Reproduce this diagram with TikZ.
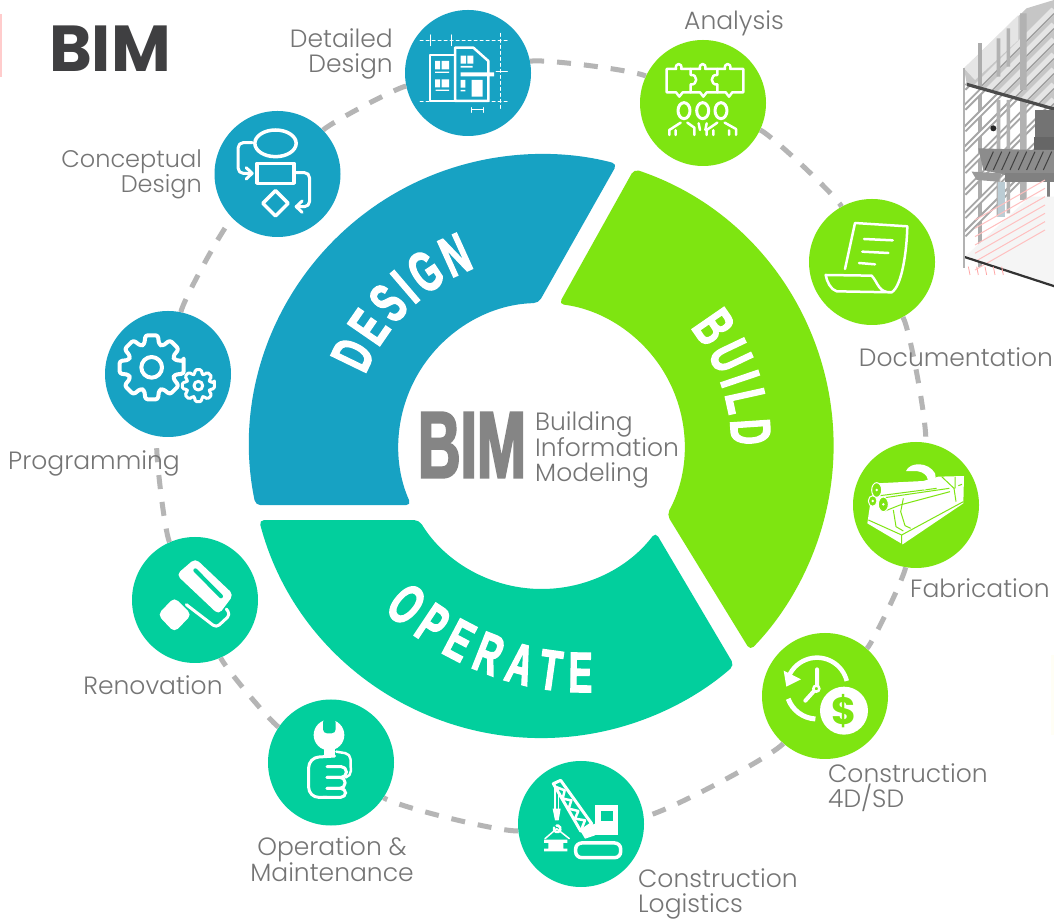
\documentclass[tikz,border=0pt]{standalone}
\usepackage{fontspec}
\setmainfont{Poppins Light}
\newfontfamily\titlefont{Poppins Bold}
\newfontfamily\bebasfont[FakeStretch=0.62,FakeBold=2.2]{Liberation Sans Bold}
\usetikzlibrary{decorations.text}
\definecolor{designblue}{HTML}{17A2C3}
\definecolor{buildgreen}{HTML}{7EE511}
\definecolor{operateteal}{HTML}{02CF9D}
\definecolor{labelgray}{HTML}{757575}
\definecolor{titlegray}{HTML}{3F3F41}
\definecolor{centergray}{HTML}{858585}
\definecolor{dashgray}{HTML}{B5B5B5}
\tikzset{
dot/.style={circle,minimum size=126pt,inner sep=0pt,fill=#1},
ringlink/.style={draw=dashgray,line width=5pt,dash pattern=on 14pt off 13pt,looseness=0.3},
txt/.style={text=labelgray,font=\fontsize{25}{25}\selectfont,inner sep=0pt},
iconline/.style={draw=white,line width=#1,line cap=round,line join=round},
iconline/.default=2.5pt,
rail/.style={draw=gray!70,line width=6pt},
railcore/.style={draw=white,line width=2pt}
}
\begin{document}
\begin{tikzpicture}[x=1pt,y=1pt]
\path[use as bounding box,fill=white] (0,0) rectangle (1054,918);
\coordinate (hub) at (541.5,472);
\fill[red!20] (0,841) rectangle (1.5,904);
\fill[yellow!4] (1051,183) rectangle (1054,263);

\begin{scope}[shift={(hub)},rounded corners=5pt]
\fill[designblue] (191.7:292) arc[start angle=191.7,end angle=75,radius=292] -- (91.2:143) arc[start angle=91.2,end angle=204.4,radius=143] -- cycle;
\fill[buildgreen] (71.5:292) arc[start angle=71.5,end angle=-44.4,radius=292] -- (-28.7:143) arc[start angle=-28.7,end angle=83,radius=143] -- cycle;
\fill[operateteal] (194.7:292) arc[start angle=194.7,end angle=311.3,radius=292] -- (322.9:143) arc[start angle=322.9,end angle=211.2,radius=143] -- cycle;
\path[decorate,decoration={text along path,text align={fit to path},text={|\bebasfont\fontsize{57}{57}\selectfont\color{white}|DESIGN}}] (158:190) arc[start angle=158,end angle=110.5,radius=190];
\path[decorate,decoration={text along path,text align={fit to path},text={|\bebasfont\fontsize{57}{57}\selectfont\color{white}|BUILD}}] (38.5:190) arc[start angle=38.5,end angle=0,radius=190];
\end{scope}
\path[decorate,decoration={text along path,text align={fit to path},text={|\bebasfont\fontsize{57}{57}\selectfont\color{white}|OPERATE}}] (383.5,308) .. controls (430,263) and (510,223) .. (592,226);

\node[dot=designblue](detailed) at (468,845){};
\node[dot=designblue](conceptual) at (277.5,744){};
\node[dot=designblue](programming) at (168,544){};
\node[dot=buildgreen](analysis) at (703,815){};
\node[dot=buildgreen](documentation) at (872,656){};
\node[dot=buildgreen](fabrication) at (916,413){};
\node[dot=buildgreen](construction) at (825,222){};
\node[dot=operateteal](logistics) at (581,94){};
\node[dot=operateteal](operation) at (331,155.5){};
\node[dot=operateteal](renovation) at (195,318){};

\path
(detailed) edge[ringlink,bend left=18] (analysis)
(analysis) edge[ringlink,bend left=18] (documentation)
(documentation) edge[ringlink,bend left=19] (fabrication)
(fabrication) edge[ringlink,bend left=16] (construction)
(construction) edge[ringlink,bend left=21] (logistics)
(logistics) edge[ringlink,bend left=20] (operation)
(operation) edge[ringlink,bend left=16] (renovation)
(renovation) edge[ringlink,bend left=17] (programming)
(programming) edge[ringlink,bend left=17] (conceptual)
(conceptual) edge[ringlink,bend left=16] (detailed);

\node[text=titlegray,font=\titlefont\fontsize{65}{65}\selectfont,inner sep=0pt](title) at (110,869){BIM};
\node[txt,anchor=east,align=right](lbldetailed) at (393,864){Detailed\\Design};
\node[txt,anchor=east,align=right,font=\fontsize{24}{25}\selectfont](lblconceptual) at (202,744){Conceptual\\Design};
\node[txt](lblanalysis) at (734,895){Analysis};
\node[txt](lbldocumentation) at (956,561){Documentation};
\node[txt](lblfabrication) at (980,330){Fabrication};
\node[txt,anchor=west,align=left](lblconstruction) at (828,130){Construction\\4D/SD};
\node[txt,anchor=west,align=left](lbllogistics) at (638,24){Construction\\Logistics};
\node[txt,align=center](lbloperation) at (332,58.5){Operation \&\\Maintenance};
\node[txt](lblrenovation) at (153,233){Renovation};
\node[txt](lblprogramming) at (94,455){Programming};
\node[text=centergray,font=\bebasfont\fontsize{95}{95}\selectfont,inner sep=0pt](hubbim) at (472,473){BIM};
\node[txt,anchor=west,align=left](hubtext) at (535,468){Building\\Information\\Modeling};

\begin{scope}[shift={(detailed.center)},yscale=-1,scale=0.3333,shift={(-144,-144)}]
\draw[iconline=1pt,dashed] (0,48) -- (270,48) (0,230) -- (270,230) (241,25) -- (241,255);
\draw[iconline=1pt] (30,30) -- (30,62) (93,30) -- (93,62) (228,140) -- (262,140) (155,255) -- (190,255) (155,248) -- (155,262) (190,248) -- (190,262);
\draw[iconline=2.5pt] (30,90) rectangle (105,228);
\draw[iconline=2.5pt] (105,228) -- (105,68) -- (160,68) -- (205,108) -- (205,228) -- cycle;
\fill[white] (122,142) rectangle (222,154) (155,165) rectangle (188,215);
\fill[white] (45,108) rectangle (60,133) (65,108) rectangle (87,133) (45,140) rectangle (87,144);
\fill[white] (45,163) rectangle (60,187) (65,163) rectangle (87,187) (47,194) rectangle (87,198);
\fill[white] (122,92) rectangle (138,116) (142,92) rectangle (160,116) (122,123) rectangle (158,128);
\fill[white] (122,165) rectangle (136,188) (122,195) rectangle (136,199);
\end{scope}

\begin{scope}[shift={(conceptual.center)},yscale=-1,scale=0.3333,shift={(-806,-522)}]
\draw[iconline=3.5pt] (800,430) ellipse[x radius=62,y radius=40];
\draw[iconline=3.5pt] (745,490) rectangle (855,550);
\draw[iconline=3.5pt] (800,572) -- (838,610) -- (800,648) -- (762,610) -- cycle;
\draw[iconline=3pt,rounded corners=5pt] (730,428) -- (688,428) -- (688,520) -- (728,520);
\draw[iconline=3pt] (712,503) -- (730,520) -- (712,537);
\draw[iconline=3pt,rounded corners=5pt] (862,518) -- (902,518) -- (902,620) -- (865,620);
\draw[iconline=3pt] (880,603) -- (862,620) -- (880,637);
\end{scope}

\begin{scope}[shift={(programming.center)},yscale=-1,scale=0.3333,shift={(-234,-222)}]
\draw[iconline=4pt,rounded corners=2.5pt,shift={(185,202)}] (-11:98) \foreach \a in {0,45,...,315}{ -- (\a-11:98) -- (\a+11:98) -- (\a+18:72) -- (\a+27:72)} -- cycle;
\draw[iconline=4pt] (185,202) circle[radius=31];
\draw[iconline=3pt,rounded corners=1.5pt,shift={(325,257)}] (-11:49) \foreach \a in {0,45,...,315}{ -- (\a-11:49) -- (\a+11:49) -- (\a+18:36) -- (\a+27:36)} -- cycle;
\draw[iconline=3pt] (325,257) circle[radius=13];
\end{scope}

\begin{scope}[shift={(renovation.center)},yscale=-1,scale=0.3333,shift={(-314,-901)}]
\fill[white,rounded corners=5pt] (258,825) -- (315,776) -- (430,885) -- (385,945) -- cycle;
\draw[operateteal,line width=4pt,line cap=round] (315,812) -- (392,890);
\draw[iconline=3pt,rounded corners=4pt] (408,928) -- (420,945) -- (378,984) -- (288,915);
\fill[white,rounded corners=5pt] (202,945) -- (252,893) -- (304,945) -- (252,998) -- cycle;
\end{scope}

\begin{scope}[shift={(operation.center)},yscale=-1,scale=0.3333,shift={(-274,-217.5)}]
\fill[white] (268,135) circle[radius=46];
\fill[operateteal,rounded corners=4pt] (250,85) rectangle (288,130);
\fill[white] (252,170) rectangle (286,200);
\draw[iconline=3pt,rounded corners=10pt] (285,198) -- (207,203) -- (207,322) -- (262,322);
\draw[iconline=3pt,rounded corners=5pt] (262,230) -- (320,230) -- (320,262) -- (262,262);
\draw[iconline=3pt,rounded corners=5pt] (262,262) -- (316,262) -- (316,295) -- (262,295);
\draw[iconline=3pt,rounded corners=5pt] (262,295) -- (318,295) -- (318,322) -- (250,322);
\draw[iconline=2.5pt,rounded corners=5pt] (290,185) -- (332,192) -- (334,258) -- (318,262);
\end{scope}

\begin{scope}[shift={(logistics.center)},yscale=-1,scale=0.3333,shift={(-153,-161)}]
\fill[white] (195,105) rectangle (265,195);
\fill[operateteal] (213,122) rectangle (248,152);
\fill[white] (150,180) -- (195,160) -- (195,195) -- (165,205) -- cycle;
\draw[white,line width=3.5pt,rounded corners=6pt] (137,218) rectangle (272,262);
\draw[iconline=3pt] (70,40) -- (92,30) -- (185,160) -- (152,182) -- cycle;
\draw[iconline=2.5pt] (78,50) -- (104,60) -- (98,85) -- (124,90) -- (116,115) -- (145,122) -- (135,145) -- (165,150) -- (155,175);
\draw[iconline=1.5pt] (75,45) -- (75,115) (85,55) -- (85,115);
\fill[white] (68,115) -- (92,115) -- (86,150) -- (75,150) -- cycle;
\draw[iconline=2.5pt] (72,172) arc[start angle=200,end angle=-100,radius=10];
\draw[iconline=1.5pt] (45,205) -- (80,175) -- (118,205);
\fill[white] (42,208) rectangle (112,218) (55,218) rectangle (100,235) (42,235) rectangle (112,243);
\end{scope}

\begin{scope}[shift={(construction.center)},yscale=-1,scale=0.3333,shift={(-254,-798)}]
\draw[white,line width=4.5pt] (230,775)++(-14:92) arc[start angle=-14,end angle=-158,radius=92];
\fill[white] (130,722) -- (182,748) -- (138,770) -- cycle;
\draw[white,line width=5pt] (230,775)++(160:92) arc[start angle=160,end angle=93,radius=92];
\draw[iconline=4pt] (230,718) -- (230,772) (222,782) -- (195,812);
\draw[white,line width=2.5pt,fill=buildgreen] (228,776) circle[radius=9];
\fill[white] (311,842) circle[radius=72];
\node[text=buildgreen,font=\titlefont\fontsize{38}{38}\selectfont,inner sep=0pt](dollar) at (311,842){\$};
\end{scope}

\begin{scope}[shift={(fabrication.center)},yscale=-1,scale=0.3333,shift={(-168,-150)}]
\fill[white] (30,150) -- (50,85) -- (190,78) -- (235,65) -- (312,63) -- (310,145) -- (128,268) -- (22,205) -- cycle;
\draw[buildgreen,line width=1pt] (25,195) -- (125,240) -- (310,140) (125,240) -- (125,268);
\draw[buildgreen,line width=1pt] (60,122) -- (230,100) (75,128) -- (268,100) (75,168) -- (120,150) -- (270,110);
\draw[buildgreen,line width=1pt] (130,130) -- (122,170) -- (135,212) -- (152,220) (100,165) -- (108,215) -- (130,228);
\draw[buildgreen,line width=1pt] (245,65) -- (282,100) -- (288,140) (285,65) -- (285,100) (295,92) -- (306,88);
\fill[white] (138,48) .. controls (150,20) and (205,20) .. (225,55) .. controls (232,80) and (215,100) .. (190,105) .. controls (210,85) and (210,65) .. (185,52) .. controls (170,45) and (150,50) .. (138,48) -- cycle;
\draw[white,line width=1pt,fill=buildgreen] (50,105) ellipse[x radius=15,y radius=22] (38,138) ellipse[x radius=13,y radius=16] (70,148) ellipse[x radius=15,y radius=22];
\fill[white] (50,105) circle[radius=4] (38,138) circle[radius=4] (70,148) circle[radius=4];
\end{scope}

\begin{scope}[shift={(documentation.center)},yscale=-1,scale=0.3333,shift={(-756,-787)}]
\draw[iconline=2.5pt] (675,808) -- (705,670) -- (862,680) .. controls (860,760) and (845,860) .. (815,878);
\draw[iconline=2.5pt] (617,826) -- (755,828) .. controls (775,850) and (775,880) .. (815,878) -- (650,875) .. controls (632,870) and (620,845) .. (617,826) -- cycle;
\draw[iconline=2.5pt] (732,718) -- (818,722) (727,756) -- (805,760) (717,790) -- (765,794);
\end{scope}

\begin{scope}[shift={(analysis.center)},yscale=-1,scale=0.3333,shift={(-129,-144)}]
\draw[iconline=2.5pt] (20,42) -- (48,42) .. controls (44,22) and (68,22) .. (64,42) -- (120,42) .. controls (116,22) and (140,22) .. (136,42) -- (195,42) .. controls (191,22) and (215,22) .. (211,42) -- (250,42) -- (250,112) -- (217,112) -- (207,125) -- (197,112) -- (140,112) -- (130,125) -- (120,112) -- (68,112) -- (58,125) -- (48,112) -- (20,112) -- cycle;
\draw[iconline=2.5pt] (92,42) -- (92,60) .. controls (114,56) and (114,92) .. (92,88) -- (92,112);
\draw[iconline=2.5pt] (172,42) -- (172,60) .. controls (150,56) and (150,92) .. (172,88) -- (172,112);
\draw[iconline=3pt] (72,167) ellipse[x radius=18,y radius=24] (128,167) ellipse[x radius=18,y radius=24] (183,167) ellipse[x radius=18,y radius=24];
\draw[iconline=2.5pt] (28,240) -- (28,225) -- (62,203) (82,203) -- (103,218) -- (103,240) (47,226) -- (47,240);
\draw[iconline=2.5pt] (116,205) -- (120,225) (140,205) -- (136,225);
\draw[iconline=2.5pt] (140,240) -- (140,225) -- (172,203) (194,203) -- (228,222) -- (228,240) (160,226) -- (160,240) (207,226) -- (207,240);
\end{scope}

\begin{scope}[shift={(955,918)},yscale=-1,scale=0.3333]
\clip (0,0) rectangle (297,900);
\fill[gray!45] (27,205) -- (215,25) -- (297,0) -- (297,325) -- (35,250) -- cycle;
\fill[gray!20] (27,205) -- (190,45) -- (190,120) -- (60,240) -- cycle;
\begin{scope}
\clip (35,250) -- (215,60) -- (297,20) -- (297,325) -- cycle;
\foreach \y in {300,345,390,435,480,525,570,615}{\draw[draw=gray!20,line width=7pt] (27,\y) -- ++(270,-270);\draw[draw=gray!75,line width=1.5pt] (27,\y+11) -- ++(270,-270);}
\end{scope}
\fill[gray!65] (68,130) rectangle (82,800);
\fill[gray!60] (125,115) rectangle (136,230) (155,85) rectangle (165,200) (195,40) rectangle (215,270);
\begin{scope}
\clip (27,250) -- (297,325) -- (297,590) -- (225,590) -- (30,770) -- cycle;
\foreach \y in {265,325,390,450,515,580,650,705}{\draw[rail] (27,\y) -- ++(270,-270);\draw[railcore] (27,\y) -- ++(270,-270);}
\fill[gray!60] (125,300) rectangle (136,650) (155,300) rectangle (165,640) (195,300) rectangle (215,600);
\fill[black!85] (115,385) circle[radius=9];
\end{scope}
\fill[black!70] (35,248) -- (297,322) -- (297,332) -- (35,258) -- cycle;
\fill[gray!90!black] (240,330) rectangle (297,410);
\fill[black!60] (237,410) rectangle (297,480);
\fill[black!45] (70,445) -- (240,450) -- (297,450) -- (297,520) -- (150,525) -- (85,510) -- cycle;
\foreach \x in {90,115,...,270}{\draw[draw=black!75,line width=1pt] (\x,510) -- ++(25,-55);}
\fill[gray!80] (50,515) -- (140,520) -- (130,545) -- (65,540) -- cycle;
\fill[black!50] (150,520) rectangle (297,545);
\fill[black!50] (275,545) rectangle (285,640);
\fill[cyan!25!gray!50] (130,545) rectangle (150,650);
\fill[gray!8] (30,770) -- (225,590) -- (297,590) -- (297,860) -- cycle;
\foreach \y in {640,665,690,715,740,765,790}{\draw[draw=red!25,line width=1pt] (60,\y+20) -- ++(210,-120);}
\fill[gray!60] (25,205) rectangle (31,805);
\fill[black!80] (30,768) -- (297,855) -- (297,862) -- (30,775) -- cycle;
\foreach \x in {40,65,90,115,140}{\draw[draw=red!35,line width=0.8pt] (\x,800) -- (\x+5,825);}
\end{scope}
\end{tikzpicture}
\end{document}
